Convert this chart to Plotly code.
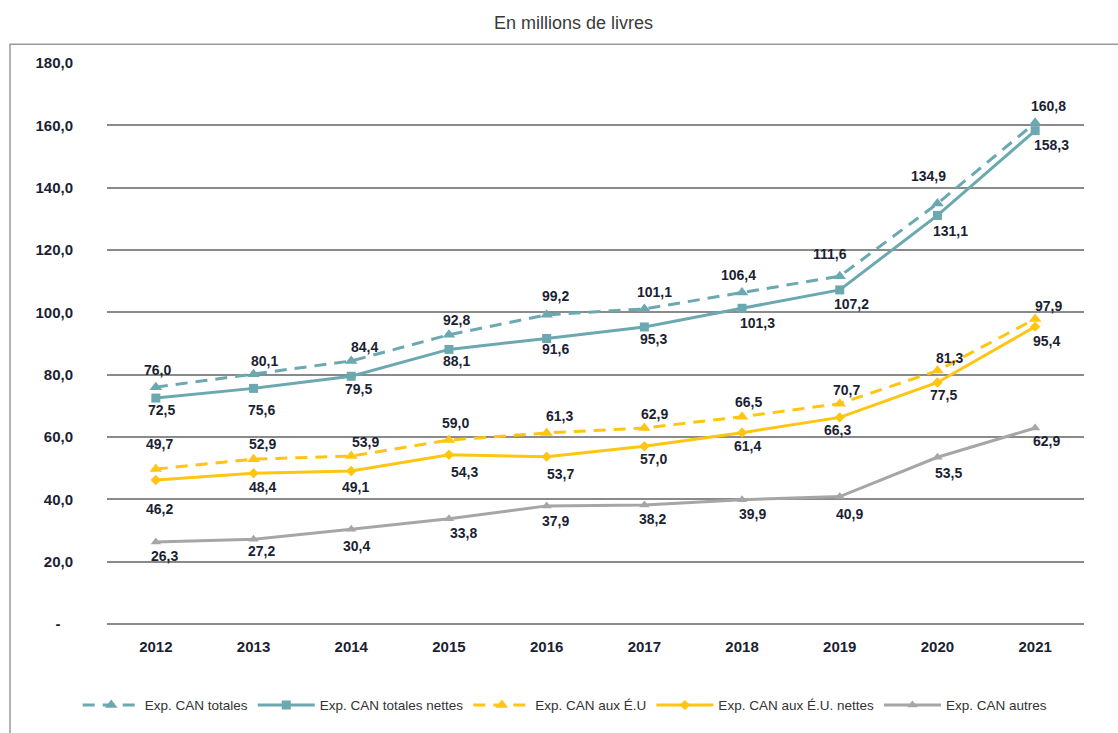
import plotly.graph_objects as go

years = ["2012", "2013", "2014", "2015", "2016", "2017", "2018", "2019", "2020", "2021"]
can_totales = [76.0, 80.1, 84.4, 92.8, 99.2, 101.1, 106.4, 111.6, 134.9, 160.8]
can_totales_nettes = [72.5, 75.6, 79.5, 88.1, 91.6, 95.3, 101.3, 107.2, 131.1, 158.3]
can_eu = [49.7, 52.9, 53.9, 59.0, 61.3, 62.9, 66.5, 70.7, 81.3, 97.9]
can_eu_nettes = [46.2, 48.4, 49.1, 54.3, 53.7, 57.0, 61.4, 66.3, 77.5, 95.4]
can_autres = [26.3, 27.2, 30.4, 33.8, 37.9, 38.2, 39.9, 40.9, 53.5, 62.9]

y_ticks = [0, 20, 40, 60, 80, 100, 120, 140, 160, 180]
y_ticktext = ["-\u00a0\u00a0\u00a0", "20,0", "40,0", "60,0", "80,0", "100,0", "120,0", "140,0", "160,0", "180,0"]

TEAL = "#6BA8B0"
GOLD = "#FFC510"
GRAY = "#A6A6A6"
TXT = "#1c1f33"
FONT = "Liberation Sans, Arial, sans-serif"

# label offsets (screen px: dx right, dy down)
label_offsets = {
    "tot": ([2, 11, 13, 8, 9, 10, -4, -10, -9, 13], [-17, -13, -14, -15, -19, -17, -17, -22, -28, -17]),
    "totn": ([6, 8, 7, 8, 9, 9, 15, 12, 13, 16], [12, 22, 13, 12, 10, 12, 15, 14, 16, 14]),
    "eu": ([4, 9, 14, 7, 13, 10, 6, 7, 12, 13], [-25, -15, -14, -17, -17, -14, -15, -14, -13, -13]),
    "eun": ([4, 9, 4, 16, 14, 9, 5, -2, 6, 11], [29, 14, 16, 17, 17, 13, 13, 13, 13, 14]),
    "aut": ([9, 8, 5, 15, 9, 8, 10, 10, 11, 11], [14, 12, 17, 14, 15, 14, 14, 17, 16, 13]),
}

series = [
    ("tot", "Exp. CAN totales", can_totales, TEAL, "12px,8px", "triangle-up", 11),
    ("totn", "Exp. CAN totales nettes", can_totales_nettes, TEAL, "solid", "square", 9),
    ("eu", "Exp. CAN aux É.U", can_eu, GOLD, "12px,8px", "triangle-up", 11),
    ("eun", "Exp. CAN aux É.U. nettes", can_eu_nettes, GOLD, "solid", "diamond", 8),
    ("aut", "Exp. CAN autres", can_autres, GRAY, "solid", "triangle-up", 9),
]

fig = go.Figure()
annotations = []
for key, name, vals, color, dash, sym, size in series:
    fig.add_trace(go.Scatter(
        x=years, y=vals, name=name, mode="lines+markers",
        line=dict(color=color, width=3, dash=dash),
        marker=dict(symbol=sym, size=size, color=color),
    ))
    dxs, dys = label_offsets[key]
    for i, (v, dx, dy) in enumerate(zip(vals, dxs, dys)):
        annotations.append(dict(
            x=i, y=v, xref="x", yref="y", showarrow=False,
            text="<b>" + f"{v:.1f}".replace(".", ",") + "</b>",
            xshift=dx, yshift=-dy,
            font=dict(family=FONT, size=14, color=TXT),
        ))

annotations.append(dict(
    x=0.477, y=1.072, xref="paper", yref="paper", showarrow=False,
    text="En millions de livres", xanchor="center", yanchor="middle",
    font=dict(family="Liberation Sans Narrow, Arial Narrow, Liberation Sans, sans-serif", size=18, color="#3a3a3a"),
))

fig.update_layout(
    width=1118, height=733,
    margin=dict(l=107, r=34, t=63, b=104),
    paper_bgcolor="white", plot_bgcolor="white",
    annotations=annotations,
    showlegend=True,
    legend=dict(
        orientation="h", x=0.469, xanchor="center", y=-0.145, yanchor="middle",
        font=dict(family=FONT, size=13.5, color="#333333"),
        itemwidth=57, traceorder="normal",
    ),
    shapes=[dict(
        type="rect", xref="paper", yref="paper",
        x0=-0.0993, x1=1.3, y0=-0.5, y1=1.0336,
        line=dict(color="#9a9a9a", width=1.5), fillcolor="rgba(0,0,0,0)", layer="below",
    )],
)

fig.update_xaxes(
    type="category", range=[-0.5, 9.5], showgrid=False, showline=False, zeroline=False,
    ticks="outside", ticklen=9, tickcolor="rgba(0,0,0,0)",
    tickfont=dict(family=FONT, size=15, color=TXT, weight="bold"),
)
fig.update_yaxes(
    range=[0, 180], tickvals=y_ticks, ticktext=y_ticktext,
    showgrid=True, gridcolor="#8a8a8a", gridwidth=1.5, zeroline=True, zerolinecolor="#8a8a8a", zerolinewidth=1.5,
    showline=False, ticks="outside", ticklen=30, tickcolor="rgba(0,0,0,0)",
    tickfont=dict(family=FONT, size=15, color=TXT, weight="bold"),
)

fig.write_html("out.html")
